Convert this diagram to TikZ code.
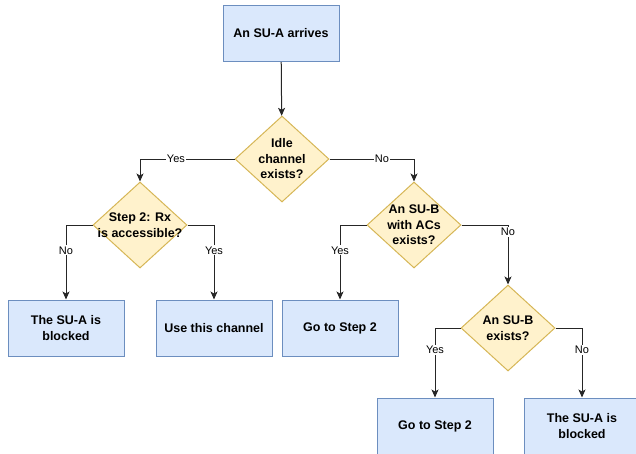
\documentclass[tikz,border=0pt]{standalone}
\usepackage{fontspec}
\setmainfont{Liberation Sans}
\usetikzlibrary{arrows.meta,shapes.geometric}
\definecolor{boxfill}{HTML}{DAE8FC}
\definecolor{boxline}{HTML}{6C8EBF}
\definecolor{askfill}{HTML}{FFF2CC}
\definecolor{askline}{HTML}{D6B656}

\begin{document}
\begin{tikzpicture}[->,>={Stealth[length=8pt,width=7pt,inset=2pt]},x=1pt,y=-1pt,line width=1pt,
    every label/.style={align=center,font=\bfseries\fontsize{12.5}{15.5}\selectfont}]
    \tikzstyle{process}=[rectangle,draw=boxline,fill=boxfill,minimum width=116pt,minimum height=56pt,
      align=center,font=\bfseries\fontsize{12.5}{15.5}\selectfont]
    \tikzstyle{decision}=[diamond,draw=askline,fill=askfill,minimum width=94pt,minimum height=86pt,inner sep=0pt]
    \tikzstyle{answer}=[fill=white,inner sep=1pt,font=\fontsize{11}{13}\selectfont]
    \clip (0,0) rectangle (636,453);

    \node[process] (arrive) at (281,33.5) {An SU-A arrives};
    \node[decision, label=center:Idle\\channel\\exists?] (idle) at (282,159) {};
    \node[decision, label=center:Step 2: Rx\\is accessible?] (rx) at (140,225) {};
    \node[decision, label=center:An SU-B\\with ACs\\exists?] (withac) at (414,225) {};
    \node[decision, label=center:An SU-B\\exists?] (sub) at (508,328) {};

    \node[process] (blockA) at (66,328) {The SU-A is\\blocked};
    \node[process] (use) at (214,328) {Use this channel};
    \node[process] (goA) at (340,328) {Go to Step 2};
    \node[process] (goB) at (435,426) {Go to Step 2};
    \node[process] (blockB) at (582,426) {The SU-A is\\blocked};

    \draw[draw=black!85] (arrive) -- (idle);
    \draw[draw=black!85] (idle.west) -| node[answer, pos=0.31] {Yes} (rx.north);
    \draw[draw=black!85] (idle.east) -| node[answer, pos=0.31] {No} (withac.north);
    \draw[draw=black!85] (rx.west) -| node[answer, pos=0.67] {No} (blockA.north);
    \draw[draw=black!85] (rx.east) -| node[answer, pos=0.67] {Yes} (use.north);
    \draw[draw=black!85] (withac.west) -| node[answer, pos=0.67] {Yes} (goA.north);
    \draw[draw=black!85] (withac.east) -| node[answer, pos=0.56] {No} (sub.north);
    \draw[draw=black!85] (sub.west) -| node[answer, pos=0.66] {Yes} (goB.north);
    \draw[draw=black!85] (sub.east) -| node[answer, pos=0.66] {No} (blockB.north);
  \end{tikzpicture}
\end{document}
